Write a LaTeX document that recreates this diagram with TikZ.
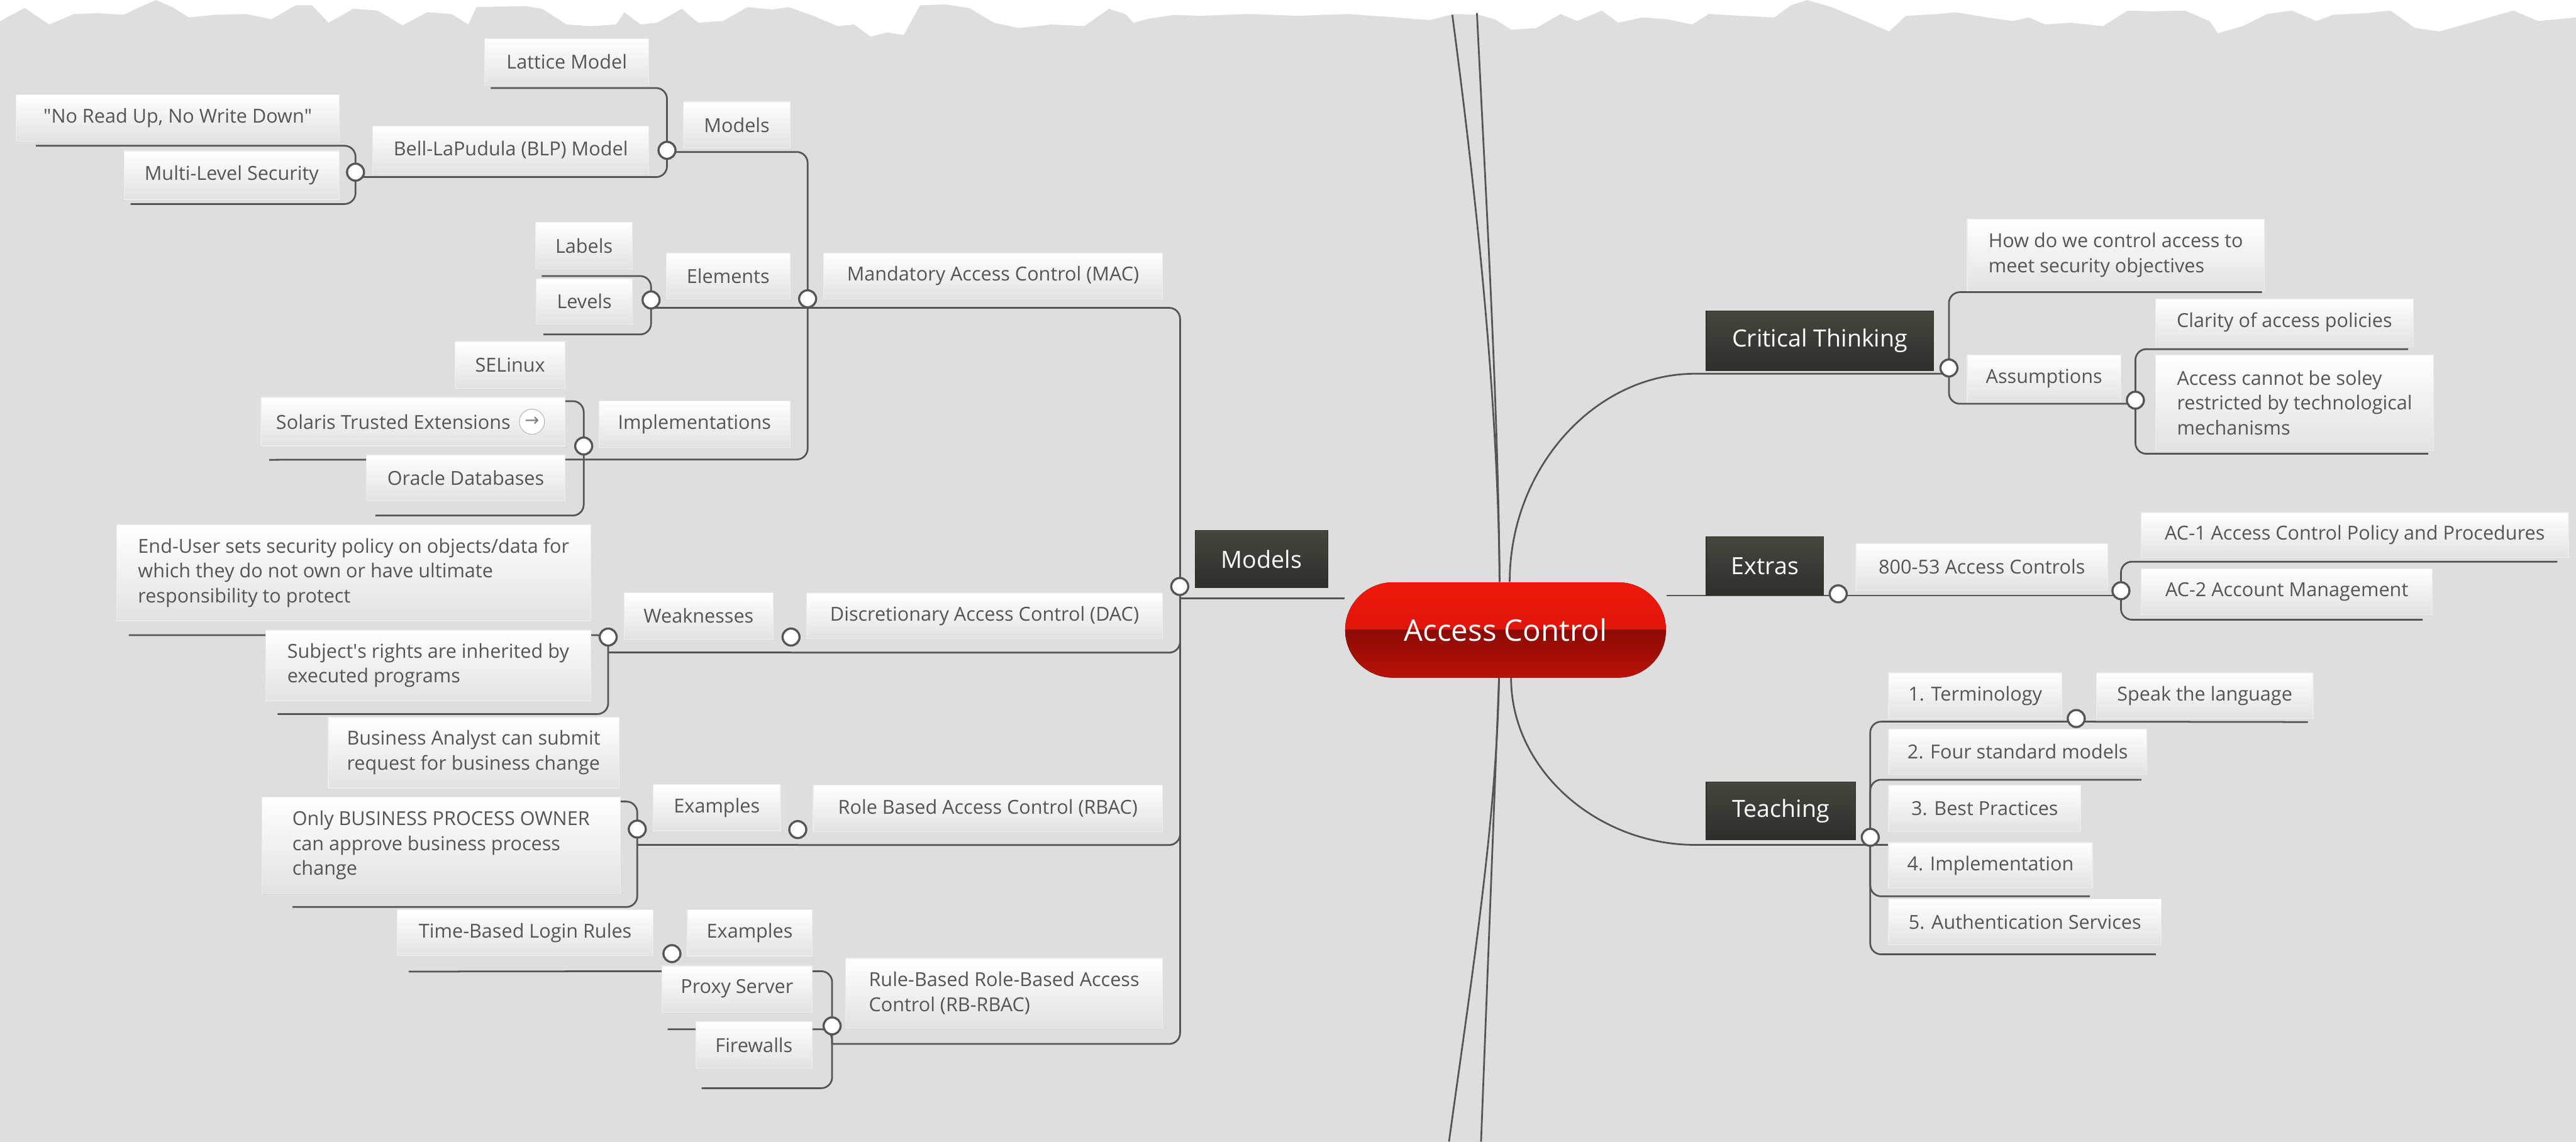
\documentclass[tikz,border=0pt]{standalone}
\usepackage{fontspec}
\setmainfont{Open Sans}
\newfontfamily\symfont{DejaVu Sans}
\usetikzlibrary{calc}
\definecolor{paper}{HTML}{DEDEDE}
\definecolor{wiregray}{HTML}{555555}
\definecolor{ink}{HTML}{555555}
\definecolor{boxbot}{HTML}{E2E2E2}
\definecolor{boxedge}{HTML}{ECECEC}
\definecolor{darktop}{HTML}{46463F}
\definecolor{darkbot}{HTML}{2F2F2A}
\definecolor{redA}{HTML}{F0180B}
\definecolor{redB}{HTML}{D01409}
\definecolor{redC}{HTML}{8C0B04}
\definecolor{redD}{HTML}{B91208}
\pgfdeclarelayer{back}
\pgfdeclarelayer{wires}
\pgfsetlayers{back,wires,main}

\begin{document}
\begin{tikzpicture}[x=0.3mm, y=0.3mm]
  \tikzset{
    topic/.style={rectangle, draw=boxedge, top color=white, bottom color=boxbot,
      text=ink, font=\fontsize{10}{13}\selectfont, inner sep=0pt, minimum height=8.4mm},
    branch/.style={rectangle, draw=darkbot, top color=darktop, bottom color=darkbot,
      text=white, font=\fontsize{12.3}{15}\selectfont, inner sep=0pt},
    hub/.style={rectangle, rounded corners=8.7mm, minimum width=58.6mm, minimum height=17.4mm,
      text=white, font=\fontsize{15.5}{18}\selectfont, inner sep=0pt,
      path picture={
        \fill[sharp corners, top color=redA, bottom color=redB] (path picture bounding box.north west) rectangle (path picture bounding box.east);
        \fill[sharp corners, top color=redC, bottom color=redD] (path picture bounding box.west) rectangle (path picture bounding box.south east);
      }},
    knob/.style={circle, draw=wiregray, fill=white, line width=1.1pt, inner sep=0pt, minimum size=3.1mm},
    link/.style={draw=wiregray, line width=0.9pt, rounded corners=2mm}
  }
  \useasboundingbox (0,0) rectangle (1568,-695);

  \node[hub] (hub) at (916.45,-383.5) {Access Control};

  \node[branch, minimum width=24.27mm, minimum height=10.44mm] (models) at (767.85,-340.4) {Models};
  \node[branch, minimum width=41.46mm, minimum height=10.92mm] (crit) at (1107.7,-207.5) {Critical Thinking};
  \node[branch, minimum width=21.45mm, minimum height=10.71mm] (extras) at (1074.35,-344.55) {Extras};
  \node[branch, minimum width=27.24mm, minimum height=10.59mm] (teach) at (1084,-493.55) {Teaching};

  \node[topic, minimum width=61.89mm] (mac) at (604.45,-168) {Mandatory Access Control (MAC)};
  \node[topic, minimum width=19.5mm] (modtop) at (448.5,-76) {Models};
  \node[topic, minimum width=30mm, minimum height=8.55mm] (lattice) at (345,-37.7) {Lattice Model};
  \node[topic, minimum width=50.46mm, minimum height=8.73mm] (blp) at (310.9,-91.25) {Bell-LaPudula (BLP) Model};
  \node[topic, minimum width=59.04mm, minimum height=8.46mm] (nord) at (108.2,-71.7) {\textquotedbl No Read Up, No Write Down\textquotedbl};
  \node[topic, minimum width=39.3mm, minimum height=8.85mm] (mls) at (141,-106.6) {Multi-Level Security};
  \node[topic, minimum width=22.65mm] (elem) at (443.2,-168) {Elements};
  \node[topic, minimum width=17.7mm, minimum height=8.52mm] (labels) at (355.5,-149.5) {Labels};
  \node[topic, minimum width=17.58mm, minimum height=8.25mm] (levels) at (355.7,-183.5) {Levels};
  \node[topic, minimum width=34.95mm, minimum height=8.55mm] (impl) at (422.75,-258.25) {Implementations};
  \node[topic, minimum width=20.1mm, minimum height=8.55mm] (selinux) at (310.5,-222.1) {SELinux};
  \node[topic, minimum width=55.5mm, minimum height=8.85mm] (solaris) at (251.4,-256.7) {Solaris Trusted Extensions\kern7.2mm};
  \node[circle, draw=black!25, fill=white, inner sep=0pt, minimum size=4.6mm, text=black!50,
    font=\symfont\fontsize{9}{9}\selectfont] (goto) at (323.8,-256.7) {→};
  \node[topic, minimum width=36.3mm] (oracle) at (283.5,-291) {Oracle Databases};

  \node[topic, minimum width=64.98mm, minimum height=8.31mm] (dac) at (599.3,-374.85) {Discretionary Access Control (DAC)};
  \node[topic, minimum width=27.27mm, minimum height=8.43mm] (weak) at (425.25,-374.95) {Weaknesses};
  \node[topic, align=left, minimum width=86.61mm, minimum height=17.46mm] (enduser) at (215.25,-348.7)
    {End-User sets security policy on objects/data for\\which they do not own or have ultimate\\responsibility to protect};
  \node[topic, align=left, minimum width=59.37mm, minimum height=12.87mm] (subj) at (260.65,-405)
    {Subject\textquotesingle s rights are inherited by\\executed programs};

  \node[topic, minimum width=63.78mm, minimum height=8.49mm] (rbac) at (601.3,-492.05) {Role Based Access Control (RBAC)};
  \node[topic, minimum width=23.25mm] (ex) at (436.35,-491.7) {Examples};
  \node[topic, align=left, minimum width=53.1mm, minimum height=12.96mm] (analyst) at (288.3,-458.1)
    {Business Analyst can submit\\request for business change};
  \node[topic, align=left, minimum width=65.43mm, minimum height=17.61mm] (owner) at (268.45,-514.55)
    {Only BUSINESS PROCESS OWNER\\can approve business process\\change};

  \node[topic, align=left, minimum width=57.84mm, minimum height=12.66mm] (rbr) at (611.2,-604.5)
    {Rule-Based Role-Based Access\\Control (RB-RBAC)};
  \node[topic, minimum width=22.77mm] (ex2) at (456.35,-567.85) {Examples};
  \node[topic, minimum width=46.74mm] (timed) at (319.7,-567.8) {Time-Based Login Rules};
  \node[topic, minimum width=27.42mm] (proxy) at (448.6,-602) {Proxy Server};
  \node[topic, minimum width=21.21mm, minimum height=8.49mm] (fw) at (458.95,-636.15) {Firewalls};

  \node[topic, align=left, minimum width=54.27mm, minimum height=13.08mm] (how) at (1287.85,-155.2)
    {How do we control access to\\meet security objectives};
  \node[topic, minimum width=28.08mm, minimum height=8.61mm] (assum) at (1244.2,-230.35) {Assumptions};
  \node[topic, minimum width=47.1mm, minimum height=8.58mm] (clarity) at (1390.5,-196.3) {Clarity of access policies};
  \node[topic, align=left, minimum width=50.82mm, minimum height=17.49mm] (solely) at (1396.7,-245.15)
    {Access cannot be soley\\restricted by technological\\mechanisms};
  \node[topic, minimum width=45.99mm, minimum height=8.52mm] (nist) at (1206.35,-345.1) {800-53 Access Controls};
  \node[topic, minimum width=78.03mm, minimum height=8.25mm] (acone) at (1433.35,-325.75) {AC-1 Access Control Policy and Procedures};
  \node[topic, minimum width=53.19mm] (actwo) at (1391.95,-360.3) {AC-2 Account Management};
  \node[topic, minimum width=31.62mm, minimum height=8.34mm] (term) at (1202.3,-423.5) {1. Terminology};
  \node[topic, minimum width=39.6mm, minimum height=8.34mm] (speak) at (1342,-423.5) {Speak the language};
  \node[topic, minimum width=47.13mm, minimum height=8.25mm] (four) at (1228.15,-457.55) {2. Four standard models};
  \node[topic, minimum width=35.1mm, minimum height=8.52mm] (best) at (1208.1,-492.2) {3. Best Practices};
  \node[topic, minimum width=37.2mm, minimum height=8.34mm] (implt) at (1211.6,-526.9) {4. Implementation};
  \node[topic, minimum width=49.77mm] (auth) at (1232.55,-561.2) {5. Authentication Services};

  \coordinate (jmodels) at (718.3,-364.2);
  \coordinate (jmac) at (491.6,-187.4);
  \coordinate (jtop) at (406,-92.5);
  \coordinate (jblp) at (216.4,-107.8);
  \coordinate (jelem) at (396.3,-187.4);
  \coordinate (jimpl) at (355.3,-279.7);
  \coordinate (jdac) at (481.5,-397.3);
  \coordinate (jweak) at (370.2,-397.3);
  \coordinate (jrbac) at (485.6,-514.4);
  \coordinate (jex) at (387.9,-514.4);
  \coordinate (jrbr) at (506.5,-635.5);
  \coordinate (jex2) at (409,-591.2);
  \coordinate (jcrit) at (1186.3,-227.5);
  \coordinate (jassum) at (1299.8,-245.8);
  \coordinate (jextras) at (1118.9,-362.5);
  \coordinate (jnist) at (1291,-362.5);
  \coordinate (jteach) at (1138.4,-514.3);
  \coordinate (jterm) at (1263.8,-439.3);
  \coordinate (upA) at (884,-9);
  \coordinate (upB) at (899,-8);
  \coordinate (downA) at (882,-695);
  \coordinate (downB) at (901.5,-695);

  \node[knob] (kmodels) at (718.1,-357) {};
  \node[knob] (kmac) at (491.6,-181.9) {};
  \node[knob] (ktop) at (406,-91.5) {};
  \node[knob] (kblp) at (216.4,-104.8) {};
  \node[knob] (kelem) at (396.3,-182.6) {};
  \node[knob] (kimpl) at (355.3,-271.5) {};
  \node[knob] (kdac) at (481.5,-387.8) {};
  \node[knob] (kweak) at (370.2,-387.8) {};
  \node[knob] (krbac) at (485.6,-505) {};
  \node[knob] (kex) at (387.9,-504.7) {};
  \node[knob] (krbr) at (506.5,-624.5) {};
  \node[knob] (kex2) at (409,-580.5) {};
  \node[knob] (kcrit) at (1186.3,-224) {};
  \node[knob] (kassum) at (1299.8,-243.6) {};
  \node[knob] (kextras) at (1118.9,-361.5) {};
  \node[knob] (knist) at (1291,-359.6) {};
  \node[knob] (kteach) at (1138.4,-509.7) {};
  \node[knob] (kterm) at (1263.8,-437.4) {};

  \begin{pgfonlayer}{wires}
    \draw[link] (upA) .. controls (900,-130) and (912,-250) .. ([xshift=-1.1mm]hub.north);
    \draw[link] (upB) .. controls (905,-130) and (912,-250) .. ([xshift=-1.1mm]hub.north);
    \draw[link] ([xshift=-1.2mm]hub.south) .. controls (911,-500) and (895,-600) .. (downA);
    \draw[link] ([xshift=-1.2mm]hub.south) -- (downB);

    \draw[link] (hub.west |- jmodels) -- (jmodels);
    \draw[link] (jmodels) |- (jmac);
    \draw[link] (jmodels) |- (jdac);
    \draw[link] (jmodels) |- (jrbac);
    \draw[link] (jmodels) |- (jrbr);
    \draw[link] (jmac) |- (jtop);
    \draw[link] (jmac) -- (jelem);
    \draw[link] (jmac) |- (jimpl);
    \draw[link] (jtop) |- ([shift={(4,-1.4)}]lattice.south west);
    \draw[link] (jtop) |- (jblp);
    \draw[link] (jblp) |- ([shift={(12.3,-2.7)}]nord.south west);
    \draw[link] (jblp) |- ([shift={(4.2,-2.6)}]mls.south west);
    \draw[link] (jelem) |- ([shift={(4,-4.1)}]labels.south west);
    \draw[link] (jelem) |- ([shift={(4.6,-6.1)}]levels.south west);
    \draw[link] (jimpl) |- ([shift={(4,-7.6)}]selinux.south west);
    \draw[link] (jimpl) -- ([shift={(5.2,-8.2)}]solaris.south west);
    \draw[link] (jimpl) |- ([shift={(5.7,-8.6)}]oracle.south west);
    \draw[link] (jdac) -- (jweak);
    \draw[link] (jweak) |- ([shift={(7.8,-8.6)}]enduser.south west);
    \draw[link] (jweak) |- ([shift={(7.5,-8)}]subj.south west);
    \draw[link] (jrbac) -- (jex);
    \draw[link] (jex) |- ([shift={(4,-8)}]analyst.south west);
    \draw[link] (jex) |- ([shift={(18.9,-8)}]owner.south west);
    \draw[link] (jrbr) |- (jex2);
    \draw[link] (jex2) -- ([shift={(7.2,-9.4)}]timed.south west);
    \draw[link] (jrbr) |- ([shift={(3.7,-10.3)}]proxy.south west);
    \draw[link] (jrbr) |- ([shift={(3.7,-11.9)}]fw.south west);

    \draw[link] ([xshift=0.75mm]hub.north) .. controls +(0,70) and +(-67,0) .. (crit.west |- jcrit) -- (jcrit);
    \draw[link] (jcrit) |- ([shift={(-1.7,-0.6)}]how.south east);
    \draw[link] (jcrit) |- (jassum);
    \draw[link] (jassum) |- ([shift={(-3.4,-1.7)}]clarity.south east);
    \draw[link] (jassum) |- ([shift={(-3.6,-1.7)}]solely.south east);
    \draw[link] (hub.east |- jextras) -- (jextras) -- (jnist);
    \draw[link] (jnist) |- ([shift={(-7,-2.2)}]acone.south east);
    \draw[link] (jnist) |- ([shift={(-6.2,-2.7)}]actwo.south east);
    \draw[link] ([xshift=1mm]hub.south) .. controls +(0,-56) and +(-66,0) .. (teach.west |- jteach) -- (jteach);
    \draw[link] (jteach) |- (jterm);
    \draw[link] (jterm) -- ([shift={(-3.5,-1.9)}]speak.south east);
    \draw[link] (jteach) |- ([shift={(-3.4,-3.1)}]four.south east);
    \draw[link] (jteach) -- ([shift={(-3.6,-7.9)}]best.south east);
    \draw[link] (jteach) |- ([shift={(-1.8,-4.6)}]implt.south east);
    \draw[link] (jteach) |- ([shift={(-3.5,-5.5)}]auth.south east);
  \end{pgfonlayer}

  \begin{pgfonlayer}{back}
    \fill[paper] (0,0) rectangle (1568,-695);
    \fill[white] (0,0) \foreach \x/\y in {0/12.8, 15/4.8, 30/14.9, 45/8.5, 60/8.0, 75/9.0, 90/2.1, 95/0,
      105/4.3, 115/10.6, 130/9.0, 150/8.5, 165/11.7, 180/3.2, 190/3.2, 200/13.8, 215/5.3, 230/6.4,
      245/15.4, 260/7.4, 275/8.5, 285/14.9, 290/4.3, 320/3.7, 330/5.3, 345/14.9, 360/15.9, 375/14.9,
      380/7.4, 390/14.9, 400/13.8, 415/5.3, 425/13.8, 440/12.8, 455/4.3, 470/5.8, 480/4.3, 495/9.6,
      510/15.9, 520/14.9, 530/22.3, 540/19.7, 550/21.3, 560/3.2, 575/2.7, 590/4.8, 605/13.8, 620/17.0,
      640/14.9, 660/15.9, 675/5.3, 685/8.5, 690/13.8, 700/11.2, 715/9.0, 730/9.6, 760/8.5, 790/9.6,
      820/8.5, 850/10.6, 870/12.2, 885/8.5, 900/9.0, 910/11.7, 920/18.1, 935/17.0, 950/8.5, 960/12.8,
      975/6.4, 985/13.8, 1000/10.6, 1015/11.7, 1030/14.9, 1040/8.5, 1060/9.6, 1080/10.6, 1090/3.2,
      1100/0, 1115/4.3, 1130/10.6, 1150/19.1, 1160/9.6, 1180/8.5, 1190/7.4, 1210/10.6, 1225/12.8,
      1235/10.6, 1245/14.9, 1260/13.8, 1280/15.9, 1295/6.4, 1310/6.9, 1330/6.4, 1345/12.8, 1350/20.2,
      1365/15.9, 1380/8.5, 1395/6.4, 1410/12.8, 1420/9.0, 1440/8.0, 1455/6.4, 1470/17.0, 1485/19.1,
      1500/14.9, 1515/10.6, 1530/6.4, 1545/12.8, 1568/10.6} {-- (\x,-\y)} -- (1568,0) -- cycle;
  \end{pgfonlayer}
\end{tikzpicture}
\end{document}
